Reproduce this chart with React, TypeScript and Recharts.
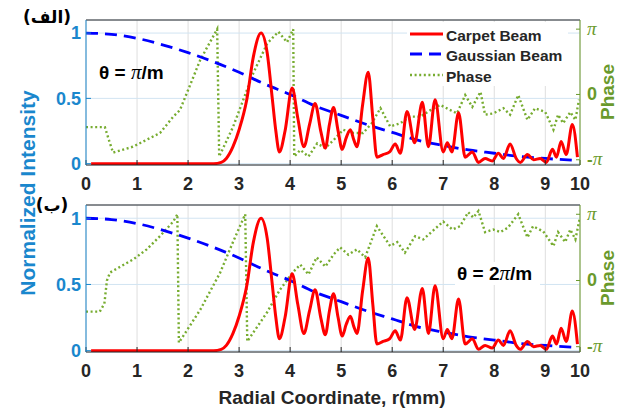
import React from "react";
import { CartesianGrid, Line, LineChart, XAxis, YAxis } from "recharts";

// x axis: MATLAB-style ticks, the last one sits at the axis end and reads "10"
const xTicks = [0, 1, 2, 3, 4, 5, 6, 7, 8, 9, 9.68];
const xTickLabels = ["0", "1", "2", "3", "4", "5", "6", "7", "8", "9", "10"];
const intensityTicks = [0, 0.5, 1];
const phaseTicks = [-1, 0, 1]; // in units of pi

// carpet beam intensity (same in both panels)
const carpetR = [
  0.1, 1.0, 2.0, 2.5, 2.65, 2.75, 2.88, 3.0, 3.15, 3.28, 3.43, 3.55, 3.65, 3.72, 3.79, 3.9, 4.04, 4.15,
  4.27, 4.38, 4.49, 4.6, 4.69, 4.77, 4.85, 4.94, 5.02, 5.1, 5.18, 5.25, 5.31, 5.42, 5.53, 5.62, 5.7,
  5.82, 5.95, 6.06, 6.16, 6.29, 6.44, 6.59, 6.71, 6.84, 7.0, 7.08, 7.17, 7.3, 7.43, 7.57, 7.69, 7.82,
  7.96, 8.08, 8.18, 8.31, 8.43, 8.51, 8.65, 8.77, 8.9, 9.02, 9.14, 9.22, 9.31, 9.41, 9.53, 9.63,
];
const carpetV = [
  0, 0, 0, 0, 0.01, 0.04, 0.13, 0.26, 0.49, 0.82, 1.0, 0.85, 0.5, 0.25, 0.09, 0.25, 0.58, 0.35,
  0.13, 0.3, 0.46, 0.25, 0.12, 0.3, 0.43, 0.25, 0.11, 0.2, 0.26, 0.18, 0.13, 0.45, 0.7, 0.35, 0.05,
  0.07, 0.09, 0.15, 0.08, 0.4, 0.16, 0.47, 0.13, 0.49, 0.09, 0.16, 0.09, 0.39, 0.05, 0.09, 0.01, 0.04,
  0.02, 0.08, 0.04, 0.15, 0.04, 0.01, 0.07, 0.03, 0.04, 0.01, 0.11, 0.05, 0.17, 0.07, 0.3, 0.05,
];

// gaussian reference beam
const gaussR = [0, 0.5, 1, 1.5, 2, 2.5, 3, 3.5, 4, 4.5, 5, 5.5, 6, 6.5, 7, 7.5, 8, 8.5, 9, 9.6];
const gaussV = [1, 0.99, 0.96, 0.91, 0.85, 0.78, 0.7, 0.61, 0.53, 0.44, 0.37, 0.3, 0.24, 0.18, 0.14, 0.105, 0.08, 0.055, 0.04, 0.025];

// phase, theta = pi/m (top)
const phaseTopR = [
  0, 0.37, 0.45, 0.53, 0.92, 1.45, 1.71, 1.84, 2.24, 2.57, 2.61, 2.88, 3.28, 3.55, 3.77, 3.94, 4.06,
  4.08, 4.2, 4.36, 4.53, 4.69, 4.85, 5.04, 5.24, 5.43, 5.6, 5.77, 5.96, 6.16, 6.35, 6.55, 6.75, 6.94,
  7.14, 7.27, 7.43, 7.57, 7.73, 7.82, 7.98, 8.18, 8.31, 8.47, 8.65, 8.8, 9.0, 9.16, 9.25, 9.35, 9.49,
  9.59, 9.66,
];
const phaseTopP = [
  -0.5, -0.5, -0.7, -0.89, -0.8, -0.59, -0.34, -0.24, 0.53, 1.0, -0.95, -0.5, 0.33, 0.78, 0.96, 0.8, 1.0,
  -0.95, -0.85, -0.95, -0.75, -0.82, -0.7, -0.54, -0.59, -0.59, -0.44, -0.21, -0.49, -0.44, -0.34, -0.34, -0.24, -0.16,
  -0.24, -0.29, -0.01, -0.19, 0.04, -0.31, -0.29, -0.21, -0.31, -0.01, -0.39, -0.21, -0.27, -0.54, -0.31, -0.44, -0.27,
  -0.39, -0.08,
];

// phase, theta = 2pi/m (bottom)
const phaseBottomR = [
  0, 0.27, 0.36, 0.41, 0.47, 0.93, 1.19, 1.45, 1.71, 1.79, 1.82, 2.24, 2.63, 2.88, 3.12, 3.16, 3.55, 3.8,
  4.05, 4.2, 4.36, 4.52, 4.69, 4.85, 4.98, 5.14, 5.31, 5.47, 5.7, 5.96, 6.1, 6.25, 6.45, 6.61, 6.78, 7.0,
  7.18, 7.33, 7.49, 7.59, 7.69, 7.82, 7.98, 8.12, 8.27, 8.47, 8.65, 8.76, 8.96, 9.16, 9.25, 9.39, 9.49,
  9.59, 9.67,
];
const phaseBottomP = [
  -0.47, -0.47, -0.35, 0.0, 0.12, 0.32, 0.47, 0.67, 0.89, 1.0, -0.94, -0.44, 0.12, 0.58, 1.0, -0.92, -0.48, -0.14,
  0.12, 0.24, 0.09, 0.35, 0.21, 0.39, 0.5, 0.39, 0.47, 0.35, 0.82, 0.52, 0.58, 0.42, 0.67, 0.62, 0.74, 0.89,
  0.77, 0.82, 1.03, 0.95, 1.05, 0.73, 0.77, 0.73, 0.8, 1.0, 0.65, 0.82, 0.74, 0.52, 0.73, 0.58, 0.77,
  0.62, 0.92,
];

const R_MAX = 9.68;
const FONT = '"Liberation Sans", Arial, sans-serif';
const SERIF = '"Liberation Serif", "Times New Roman", serif';
const BLUE = "#1a87cd";
const GREEN = "#6a9a2c";
const DARK = "#262626";

const zip = (rs: number[], vs: number[], key: string) => rs.map((r, i) => ({ r, [key]: vs[i] }));

const carpetData = zip(carpetR, carpetV, "v");
const gaussData = zip(gaussR, gaussV, "v");
const phaseTopData = zip(phaseTopR, phaseTopP, "p");
const phaseBottomData = zip(phaseBottomR, phaseBottomP, "p");

function PhaseTick(props: any) {
  const { x, y, payload } = props;
  const v = payload.value;
  return (
    <text x={x} y={y} dy="0.35em" textAnchor="start" fill={GREEN}>
      {v === 0 ? (
        <tspan fontFamily={FONT} fontWeight={700} fontSize={18}>0</tspan>
      ) : (
        <>
          {v < 0 && <tspan fontFamily={FONT} fontWeight={700} fontSize={17}>-</tspan>}
          <tspan fontFamily={SERIF} fontStyle="italic" fontSize={19}>π</tspan>
        </>
      )}
    </text>
  );
}

function Panel({ phase, top, height, bottom }: { phase: any[]; top: number; height: number; bottom: number }) {
  return (
    <div style={{ position: "absolute", left: 0, top }}>
      <LineChart width={620} height={height} margin={{ top: 19, right: 4, bottom, left: 16 }}>
        <CartesianGrid xAxisId="bottom" yAxisId="left" horizontal={false} stroke="#dedede" />
        <CartesianGrid xAxisId="bottom" yAxisId="left" vertical={false} stroke="#d2e4f2" />
        <XAxis
          xAxisId="bottom"
          dataKey="r"
          type="number"
          domain={[0, R_MAX]}
          ticks={xTicks}
          interval={0}
          allowDataOverflow
          tickFormatter={(v: number) => xTickLabels[xTicks.indexOf(v)]}
          stroke={DARK}
          tickSize={-5}
          tickMargin={17}
          height={30}
          tick={{ fill: DARK, fontSize: 18, fontWeight: 700, fontFamily: FONT }}
        />
        <XAxis
          xAxisId="top"
          orientation="top"
          dataKey="r"
          type="number"
          domain={[0, R_MAX]}
          ticks={xTicks}
          interval={0}
          tick={false}
          tickSize={-5}
          height={1}
          stroke={DARK}
        />
        <YAxis
          yAxisId="left"
          type="number"
          domain={[-0.01, 1.1]}
          ticks={intensityTicks}
          interval={0}
          allowDataOverflow
          width={70}
          stroke={BLUE}
          tickSize={-5}
          tickMargin={10}
          tick={{ fill: BLUE, fontSize: 18, fontWeight: 700, fontFamily: FONT }}
        />
        <YAxis
          yAxisId="right"
          orientation="right"
          type="number"
          domain={[-1.08, 1.14]}
          ticks={phaseTicks}
          interval={0}
          allowDataOverflow
          width={36}
          stroke={GREEN}
          tickSize={-4}
          tickMargin={11}
          tick={<PhaseTick />}
        />
        <Line
          xAxisId="bottom"
          yAxisId="right"
          data={phase}
          dataKey="p"
          type="linear"
          stroke="#77ac30"
          strokeWidth={2.4}
          strokeDasharray="2 2.6"
          dot={false}
          isAnimationActive={false}
        />
        <Line
          xAxisId="bottom"
          yAxisId="left"
          data={gaussData}
          dataKey="v"
          type="monotone"
          stroke="#0000ff"
          strokeWidth={2.8}
          strokeDasharray="12 7"
          dot={false}
          isAnimationActive={false}
        />
        <Line
          xAxisId="bottom"
          yAxisId="left"
          data={carpetData}
          dataKey="v"
          type="monotone"
          stroke="#ff0000"
          strokeWidth={3}
          dot={false}
          isAnimationActive={false}
        />
      </LineChart>
    </div>
  );
}

export default function App() {
  const bold = { fontFamily: FONT, fontWeight: 700 };
  return (
    <div style={{ position: "absolute", left: 0, top: 0, width: 620, height: 408, background: "#fff" }}>
      <Panel phase={phaseTopData} top={0} height={200} bottom={5} />
      <Panel phase={phaseBottomData} top={185} height={223} bottom={26} />
      <svg width={620} height={408} style={{ position: "absolute", left: 0, top: 0, pointerEvents: "none" }}>
        {/* axis titles */}
        <text transform="translate(27,193) rotate(-90)" textAnchor="middle" dominantBaseline="central" fontSize={21} fill={BLUE} {...bold}>
          Normalized Intensity
        </text>
        <text transform="translate(607,92) rotate(-90)" textAnchor="middle" dominantBaseline="central" fontSize={19} fill={GREEN} {...bold}>
          Phase
        </text>
        <text transform="translate(607,278) rotate(-90)" textAnchor="middle" dominantBaseline="central" fontSize={19} fill={GREEN} {...bold}>
          Phase
        </text>
        <text x={332} y={397} textAnchor="middle" dominantBaseline="central" fontSize={19} fill={DARK} {...bold}>
          Radial Coordinate, r(mm)
        </text>

        {/* panel labels */}
        <text x={47} y={17} textAnchor="middle" dominantBaseline="central" fontSize={17} fill="#000" fontFamily='"DejaVu Sans", sans-serif' fontWeight={700}>
          (الف)
        </text>
        <text x={52} y={205} textAnchor="middle" dominantBaseline="central" fontSize={17} fill="#000" fontFamily='"DejaVu Sans", sans-serif' fontWeight={700}>
          (ب)
        </text>

        {/* legend */}
        <rect x={407} y={22} width={161} height={64} fill="#fff" />
        <line x1={410} y1={34} x2={443} y2={34} stroke="#ff0000" strokeWidth={3} />
        <line x1={410} y1={54} x2={443} y2={54} stroke="#0000ff" strokeWidth={2.8} strokeDasharray="12 7" />
        <line x1={410} y1={75} x2={443} y2={75} stroke="#77ac30" strokeWidth={2.4} strokeDasharray="2 2.6" />
        <text x={446} y={35} dominantBaseline="central" fontSize={15.5} fill={DARK} {...bold}>Carpet Beam</text>
        <text x={446} y={55} dominantBaseline="central" fontSize={15.5} fill={DARK} {...bold}>Gaussian Beam</text>
        <text x={446} y={76} dominantBaseline="central" fontSize={15.5} fill={DARK} {...bold}>Phase</text>

        {/* theta annotations */}
        <text x={99} y={72} dominantBaseline="central" fontSize={19} fill="#000" {...bold}>
          θ = <tspan fontFamily={SERIF} fontStyle="italic" fontSize={21} fontWeight={400}>π</tspan>/m
        </text>
        <rect x={455} y={262} width={85} height={23} fill="#fff" />
        <text x={457} y={273} dominantBaseline="central" fontSize={19} fill="#000" {...bold}>
          θ = 2<tspan fontFamily={SERIF} fontStyle="italic" fontSize={21} fontWeight={400}>π</tspan>/m
        </text>
      </svg>
    </div>
  );
}
